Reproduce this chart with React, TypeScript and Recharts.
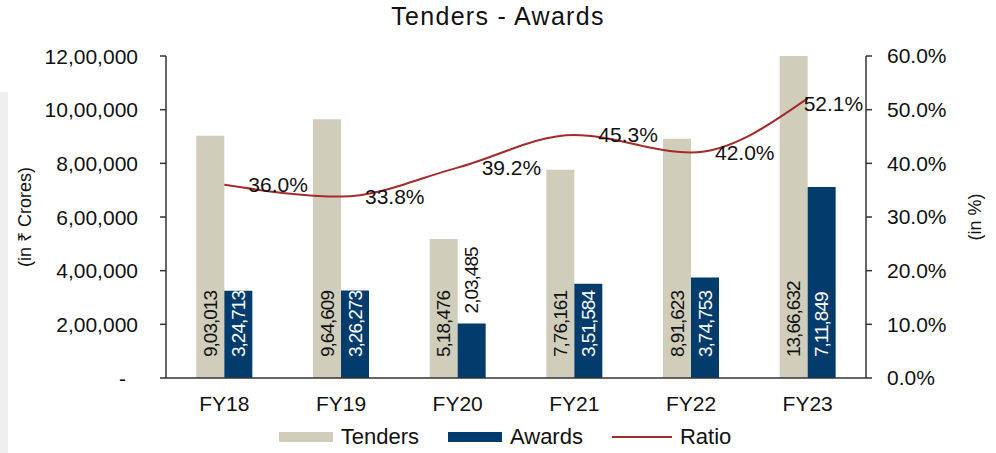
import { ComposedChart, Bar, Line, XAxis, YAxis, Legend, LabelList } from 'recharts'

const years = ['FY18', 'FY19', 'FY20', 'FY21', 'FY22', 'FY23']
const tenders = [903013, 964609, 518476, 776161, 891623, 1366632]
const awards = [324713, 326273, 203485, 351584, 374753, 711849]
const ratio = [36.0, 33.8, 39.2, 45.3, 42.0, 52.1]
const amountTicks = [0, 200000, 400000, 600000, 800000, 1000000, 1200000]
const ratioTicks = [0, 10, 20, 30, 40, 50, 60]

const data = years.map((fy, i) => ({
  fy,
  tenders: tenders[i],
  awards: awards[i],
  ratio: ratio[i]
}))

const FONT = '"Liberation Sans", Arial, Helvetica, sans-serif'
const TENDER_COLOR = '#D0CDBB'
const AWARD_COLOR = '#023C6C'
const RATIO_COLOR = '#A52B2B'
const INK = '#111111'

// indian grouping, e.g. 12,00,000
const inr = (n: number) => {
  const s = String(Math.round(n))
  if (s.length <= 3) return s
  const rest = s.slice(0, -3).replace(/\B(?=(\d{2})+(?!\d))/g, ',')
  return rest + ',' + s.slice(-3)
}

const BarValue = ({ x, y, width, height, value, color }: any) => {
  const cx = x + width / 2
  const fits = height > 80
  const ty = fits ? y + height - 21 : y - 10
  return (
    <text
      x={cx}
      y={ty}
      transform={`rotate(-90 ${cx} ${ty})`}
      textAnchor='start'
      dominantBaseline='central'
      fontSize={19}
      letterSpacing={-1}
      fontFamily={FONT}
      fill={fits ? color : INK}
    >
      {inr(value)}
    </text>
  )
}

const RatioValue = ({ x, y, value, index }: any) => {
  const last = index === ratio.length - 1
  return (
    <text
      x={last ? x - 4 : x + 24}
      y={last ? y + 5 : y}
      dominantBaseline='central'
      fontSize={21}
      fontFamily={FONT}
      fill={INK}
    >
      {`${Number(value).toFixed(1)}%`}
    </text>
  )
}

const AmountTick = ({ x, y, payload }: any) => {
  const zero = payload.value === 0
  return (
    <text
      x={zero ? x - 12 : x}
      y={y}
      textAnchor='end'
      dominantBaseline='central'
      fontSize={21}
      fontFamily={FONT}
      fill={INK}
    >
      {zero ? '-' : inr(payload.value)}
    </text>
  )
}

const AxisTitle = ({ viewBox, text, dx }: any) => {
  const cx = viewBox.x + dx
  const cy = viewBox.y + viewBox.height / 2
  return (
    <text
      x={cx}
      y={cy}
      transform={`rotate(-90 ${cx} ${cy})`}
      textAnchor='middle'
      dominantBaseline='central'
      fontSize={18}
      fontFamily={FONT}
      fill={INK}
    >
      {text}
    </text>
  )
}

const LegendBox = () => {
  const item = { display: 'flex', alignItems: 'center', marginRight: 29 }
  const label = { fontSize: 22, color: INK, marginLeft: 8 }
  return (
    <div
      style={{
        display: 'flex',
        justifyContent: 'center',
        fontFamily: FONT,
        paddingLeft: 14
      }}
    >
      <div style={item}>
        <span style={{ width: 54, height: 10, background: TENDER_COLOR }} />
        <span style={label}>Tenders</span>
      </div>
      <div style={item}>
        <span style={{ width: 54, height: 10, background: AWARD_COLOR }} />
        <span style={label}>Awards</span>
      </div>
      <div style={{ ...item, marginRight: 0 }}>
        <span style={{ width: 60, height: 2, background: RATIO_COLOR }} />
        <span style={label}>Ratio</span>
      </div>
    </div>
  )
}

export default function App() {
  return (
    <div style={{ position: 'absolute', left: 0, top: 0, width: 996, height: 453, background: '#fff' }}>
      <div
        style={{
          position: 'absolute',
          left: 0,
          top: 92,
          width: 8,
          height: 361,
          background: '#EFEFEF'
        }}
      />
      <div
        style={{
          position: 'absolute',
          left: 0,
          top: 2,
          width: 996,
          textAlign: 'center',
          fontFamily: FONT,
          fontSize: 25,
          letterSpacing: 1.3,
          color: INK
        }}
      >
        Tenders - Awards
      </div>
      <ComposedChart
        width={996}
        height={453}
        data={data}
        margin={{ top: 56, right: 0, bottom: 0, left: 0 }}
        barGap={0}
        barCategoryGap='26%'
        style={{ fontFamily: FONT }}
      >
        <XAxis
          dataKey='fy'
          height={75}
          axisLine={{ stroke: '#333', strokeWidth: 1.5 }}
          tickLine={false}
          tickSize={0}
          tickMargin={18}
          tick={{ fill: INK, fontSize: 21, fontFamily: FONT }}
        />
        <YAxis
          yAxisId='amt'
          orientation='left'
          width={166}
          domain={[0, 1200000]}
          ticks={amountTicks}
          allowDataOverflow
          axisLine={{ stroke: '#333', strokeWidth: 1.5 }}
          tickLine={{ stroke: '#333', strokeWidth: 1.5 }}
          tickSize={6}
          tickMargin={22}
          tick={<AmountTick />}
          label={<AxisTitle text='(in ₹ Crores)' dx={25} />}
        />
        <YAxis
          yAxisId='pct'
          orientation='right'
          width={130}
          domain={[0, 60]}
          ticks={ratioTicks}
          axisLine={{ stroke: '#333', strokeWidth: 1.5 }}
          tickLine={{ stroke: '#333', strokeWidth: 1.5 }}
          tickSize={6}
          tickMargin={15}
          tickFormatter={(v: number) => `${v.toFixed(1)}%`}
          tick={{ fill: INK, fontSize: 21, fontFamily: FONT }}
          label={<AxisTitle text='(in %)' dx={109} />}
        />
        <Legend
          layout='horizontal'
          verticalAlign='middle'
          align='center'
          wrapperStyle={{ position: 'absolute', top: 424, left: 0, width: 996 }}
          content={<LegendBox />}
        />
        <Bar
          yAxisId='amt'
          dataKey='tenders'
          name='Tenders'
          fill={TENDER_COLOR}
          isAnimationActive={false}
        >
          <LabelList dataKey='tenders' content={(p: any) => <BarValue {...p} color={INK} />} />
        </Bar>
        <Bar
          yAxisId='amt'
          dataKey='awards'
          name='Awards'
          fill={AWARD_COLOR}
          isAnimationActive={false}
        >
          <LabelList dataKey='awards' content={(p: any) => <BarValue {...p} color='#ffffff' />} />
        </Bar>
        <Line
          yAxisId='pct'
          dataKey='ratio'
          name='Ratio'
          type='monotone'
          stroke={RATIO_COLOR}
          strokeWidth={2}
          dot={false}
          isAnimationActive={false}
        >
          <LabelList dataKey='ratio' content={<RatioValue />} />
        </Line>
      </ComposedChart>
    </div>
  )
}
